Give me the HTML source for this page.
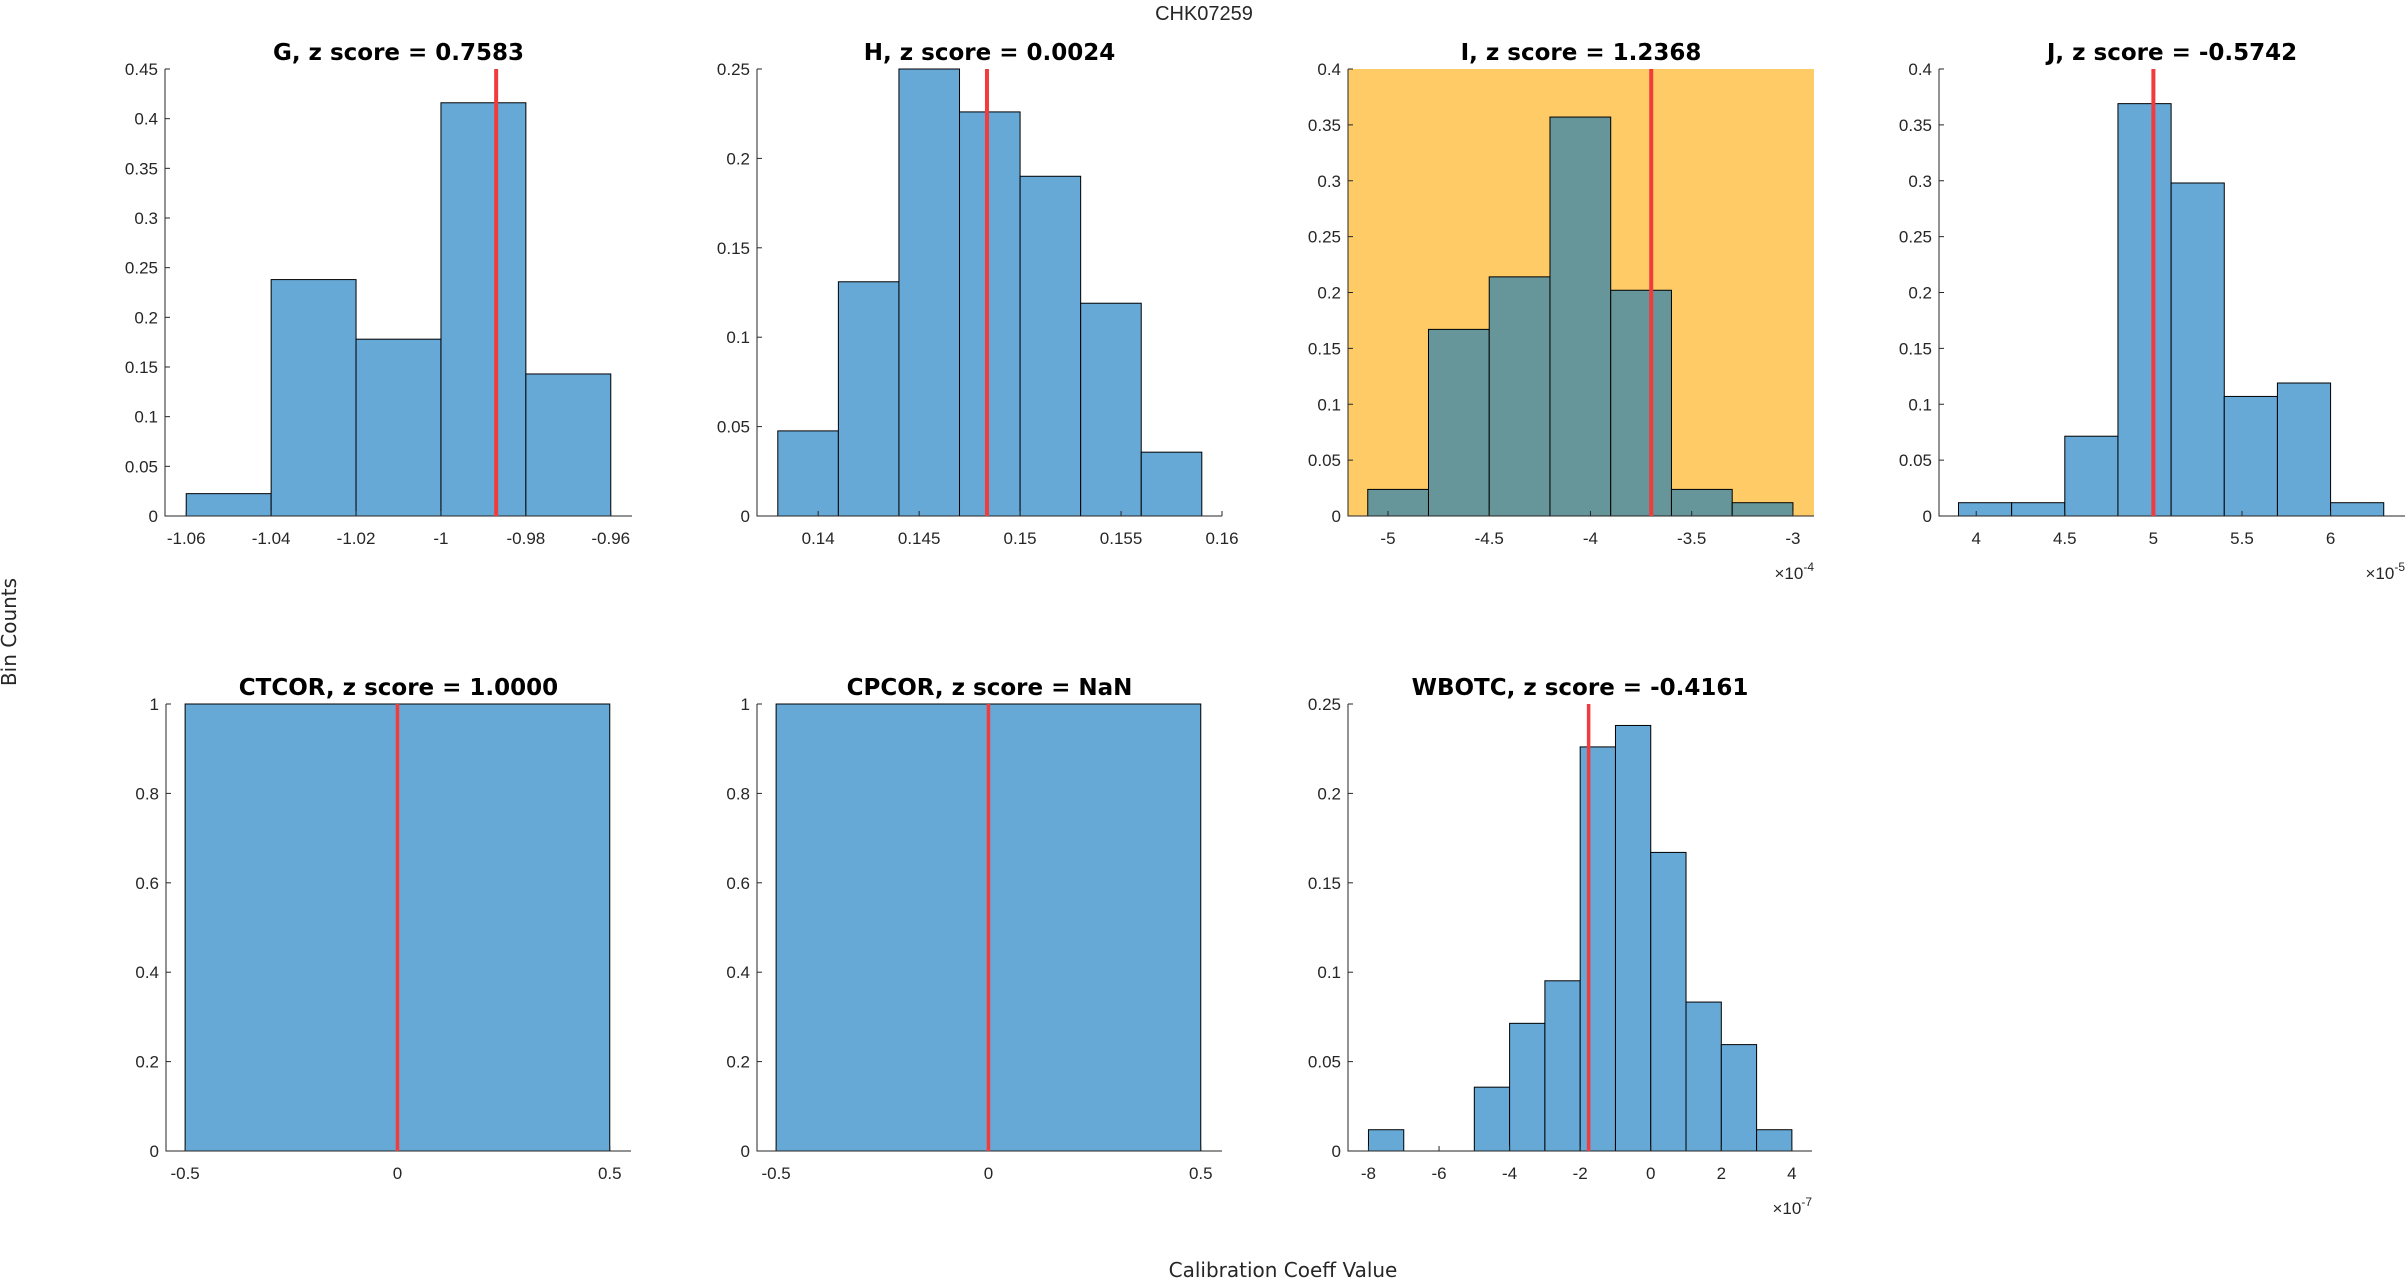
<!DOCTYPE html>
<html><head><meta charset="utf-8"><style>
html,body{margin:0;padding:0;background:#fff;}
svg{display:block;font-family:"Liberation Sans",sans-serif;}
</style></head><body>
<svg id="fig" width="2407" height="1281" viewBox="0 0 2407 1281" xmlns="http://www.w3.org/2000/svg">
<text x="1204" y="20" text-anchor="middle" font-size="20" fill="#262626">CHK07259</text>
<text transform="translate(16,632) rotate(-90)" text-anchor="middle" font-size="20" fill="#262626" font-family="DejaVu Sans, sans-serif">Bin Counts</text>
<text x="1283" y="1277" text-anchor="middle" font-size="20" fill="#262626" font-family="DejaVu Sans, sans-serif">Calibration Coeff Value</text>
</svg>
<script>
// ---- data ----
const titlesG = "G, z score = 0.7583";
const edgesG = [-1.06,-1.04,-1.02,-1.0,-0.98,-0.96];
const valuesG = [0.0225,0.238,0.178,0.416,0.143];
const markerG = -0.987;
const xTicksG = [-1.06,-1.04,-1.02,-1,-0.98,-0.96];
const xTickLabelsG = ["-1.06","-1.04","-1.02","-1","-0.98","-0.96"];
const yTicksG = [0,0.05,0.1,0.15,0.2,0.25,0.3,0.35,0.4,0.45];

const titlesH = "H, z score = 0.0024";
const edgesH = [0.138,0.141,0.144,0.147,0.150,0.153,0.156,0.159];
const valuesH = [0.0476,0.131,0.25,0.226,0.19,0.119,0.0357];
const markerH = 0.14836;
const xTicksH = [0.14,0.145,0.15,0.155,0.16];
const xTickLabelsH = ["0.14","0.145","0.15","0.155","0.16"];
const yTicksH = [0,0.05,0.1,0.15,0.2,0.25];

const titlesI = "I, z score = 1.2368";
const edgesI = [-5.1,-4.8,-4.5,-4.2,-3.9,-3.6,-3.3,-3.0];
const valuesI = [0.0238,0.167,0.214,0.357,0.202,0.0238,0.0119];
const markerI = -3.70;
const xTicksI = [-5,-4.5,-4,-3.5,-3];
const xTickLabelsI = ["-5","-4.5","-4","-3.5","-3"];
const yTicksI = [0,0.05,0.1,0.15,0.2,0.25,0.3,0.35,0.4];

const titlesJ = "J, z score = -0.5742";
const edgesJ = [3.9,4.2,4.5,4.8,5.1,5.4,5.7,6.0,6.3];
const valuesJ = [0.0119,0.0119,0.0714,0.369,0.298,0.107,0.119,0.0119];
const markerJ = 5.0;
const xTicksJ = [4,4.5,5,5.5,6];
const xTickLabelsJ = ["4","4.5","5","5.5","6"];
const yTicksJ = [0,0.05,0.1,0.15,0.2,0.25,0.3,0.35,0.4];

const titlesCT = "CTCOR, z score = 1.0000";
const edgesCT = [-0.5,0.5];
const valuesCT = [1];
const markerCT = 0;
const xTicksCT = [-0.5,0,0.5];
const xTickLabelsCT = ["-0.5","0","0.5"];
const yTicksCT = [0,0.2,0.4,0.6,0.8,1];

const titlesCP = "CPCOR, z score = NaN";
const edgesCP = [-0.5,0.5];
const valuesCP = [1];
const markerCP = 0;
const xTicksCP = [-0.5,0,0.5];
const xTickLabelsCP = ["-0.5","0","0.5"];
const yTicksCP = [0,0.2,0.4,0.6,0.8,1];

const titlesW = "WBOTC, z score = -0.4161";
const edgesW = [-8,-7,-6,-5,-4,-3,-2,-1,0,1,2,3,4];
const valuesW = [0.0119,0,0,0.0357,0.0714,0.0952,0.226,0.238,0.167,0.0833,0.0595,0.0119];
const markerW = -1.76;
const xTicksW = [-8,-6,-4,-2,0,2,4];
const xTickLabelsW = ["-8","-6","-4","-2","0","2","4"];
const yTicksW = [0,0.05,0.1,0.15,0.2,0.25];

const svg = document.getElementById('fig');
const NS = "http://www.w3.org/2000/svg";
function mk(tag, attrs, parent){const e=document.createElementNS(NS,tag);for(const k in attrs)e.setAttribute(k,attrs[k]);(parent||svg).appendChild(e);return e;}
function fmtY(v){return String(+v.toFixed(4));}

function panel(key, cfg){
  const g = mk('g',{});
  
  
  const {L,R,T,B,xmin,xmax,ymax} = cfg;
  const sx = v => L + (v - xmin) / (xmax - xmin) * (R - L);
  const sy = v => B - v / ymax * (B - T);
  if (cfg.bg) {
    const bg = mk('rect',{x:L,y:T,width:R-L,height:B-T,fill:cfg.bg},g);
    
    
  }
  for (let i=0;i<cfg.values.length;i++){
    const x0 = sx(cfg.edges[i]), x1 = sx(cfg.edges[i+1]), y = sy(cfg.values[i]);
    const r = mk('rect',{x:x0,y:y,width:x1-x0,height:Math.max(B-y,0.01),fill:cfg.barColor,stroke:'#000','stroke-width':1},g);
    
    
  }
  const ax = mk('path',{d:`M${L},${T}V${B}H${R}`,fill:'none',stroke:'#262626','stroke-width':1},g);
  
  
  cfg.yTicks.forEach(v=>{
    const y = sy(v);
    mk('line',{x1:L,x2:L+5,y1:y,y2:y,stroke:'#262626'},g);
    const t = mk('text',{x:L-7,y:y+6,'text-anchor':'end','font-size':17,fill:'#262626'},g);
    t.textContent = fmtY(v);
    
    
  });
  cfg.xTicks.forEach((v,i)=>{
    const x = sx(v);
    mk('line',{x1:x,x2:x,y1:B,y2:B-5,stroke:'#262626'},g);
    const t = mk('text',{x:x,y:B+28,'text-anchor':'middle','font-size':17,fill:'#262626'},g);
    t.textContent = cfg.xLabels[i];
    
    
  });
  const mx = sx(cfg.marker);
  const m = mk('line',{x1:mx,x2:mx,y1:T,y2:B,stroke:'#f03c3c','stroke-width':cfg.mw},g);
  
  
  const tt = mk('text',{x:(L+R)/2,y:T-9,'text-anchor':'middle','font-size':23,'font-weight':'bold',fill:'#000',"font-family":"DejaVu Sans, Liberation Sans, sans-serif"},g);
  tt.textContent = cfg.title;
  
  
  if (cfg.exp) {
    const e = mk('text',{x:R,y:B+63,'text-anchor':'end','font-size':17,fill:'#262626'},g);
    
    
    const a = mk('tspan',{},e); a.textContent = '×10';
    const b = mk('tspan',{dy:-8,'font-size':12},e); b.textContent = cfg.exp;
  }
}
const BLUE = '#66a9d7';
const r1 = {T:69,B:516}, r2 = {T:704,B:1151};
panel('g',{L:165,R:632,...r1,xmin:-1.065,xmax:-0.955,ymax:0.45,edges:edgesG,values:valuesG,marker:markerG,xTicks:xTicksG,xLabels:xTickLabelsG,yTicks:yTicksG,title:titlesG,barColor:BLUE,mw:4});
panel('h',{L:757,R:1222,...r1,xmin:0.13697,xmax:0.16,ymax:0.25,edges:edgesH,values:valuesH,marker:markerH,xTicks:xTicksH,xLabels:xTickLabelsH,yTicks:yTicksH,title:titlesH,barColor:BLUE,mw:4});
panel('i',{L:1348,R:1814,...r1,xmin:-5.1975,xmax:-2.896,ymax:0.4,edges:edgesI,values:valuesI,marker:markerI,xTicks:xTicksI,xLabels:xTickLabelsI,yTicks:yTicksI,title:titlesI,barColor:'#669699',mw:4,bg:'#fecb66',exp:'-4'});
panel('j',{L:1939,R:2405,...r1,xmin:3.79,xmax:6.42,ymax:0.4,edges:edgesJ,values:valuesJ,marker:markerJ,xTicks:xTicksJ,xLabels:xTickLabelsJ,yTicks:yTicksJ,title:titlesJ,barColor:BLUE,mw:4,exp:'-5'});
panel('ctcor',{L:166,R:631,...r2,xmin:-0.545,xmax:0.55,ymax:1,edges:edgesCT,values:valuesCT,marker:markerCT,xTicks:xTicksCT,xLabels:xTickLabelsCT,yTicks:yTicksCT,title:titlesCT,barColor:BLUE,mw:3.5});
panel('cpcor',{L:757,R:1222,...r2,xmin:-0.545,xmax:0.55,ymax:1,edges:edgesCP,values:valuesCP,marker:markerCP,xTicks:xTicksCP,xLabels:xTickLabelsCP,yTicks:yTicksCP,title:titlesCP,barColor:BLUE,mw:3.5});
panel('wbotc',{L:1348,R:1812,...r2,xmin:-8.58,xmax:4.57,ymax:0.25,edges:edgesW,values:valuesW,marker:markerW,xTicks:xTicksW,xLabels:xTickLabelsW,yTicks:yTicksW,title:titlesW,barColor:BLUE,mw:3.5,exp:'-7'});
</script>
</body></html>
